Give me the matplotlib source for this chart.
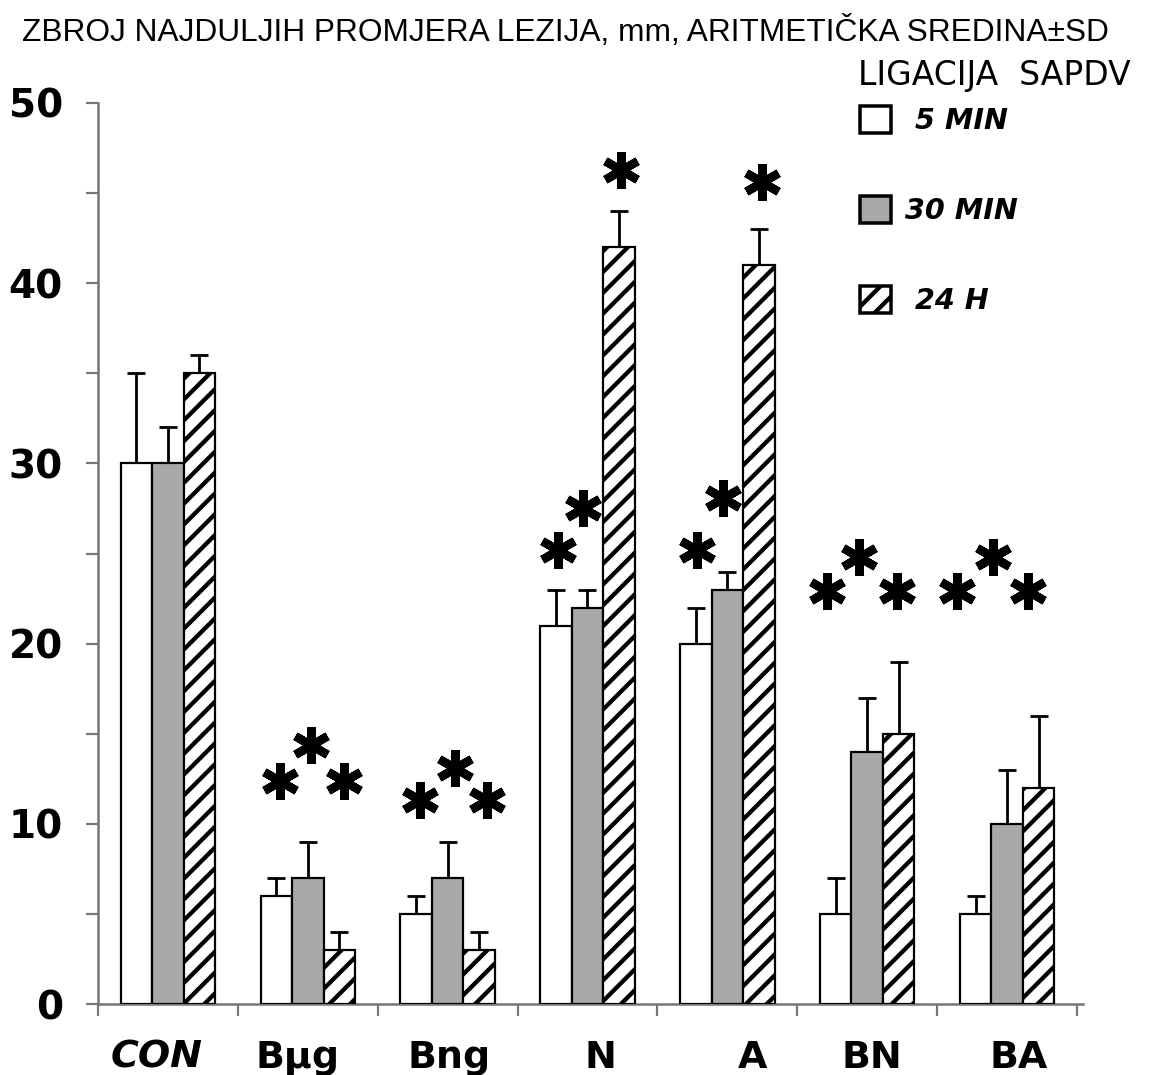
import numpy as np
import matplotlib
matplotlib.use("Agg")
import matplotlib.pyplot as plt
from matplotlib.patches import Patch
from matplotlib.markers import MarkerStyle

# ---------------- data ----------------
categories = ["CON", "Bμg", "Bng", "N", "A", "BN", "BA"]
series_names = [" 5 MIN", "30 MIN", " 24 H"]
mean_5min = [30, 6, 5, 21, 20, 5, 5]
sd_5min = [5, 1, 1, 2, 2, 2, 1]
mean_30min = [30, 7, 7, 22, 23, 14, 10]
sd_30min = [2, 2, 2, 1, 1, 3, 3]
mean_24h = [35, 3, 3, 42, 41, 15, 12]
sd_24h = [1, 1, 1, 2, 2, 4, 4]

# category label positions as they appear in the original (category units)
label_x = [-0.08, 0.93, 2.01, 3.09, 4.18, 5.03, 6.08]

# significance asterisks (x in category units, y in mm)
star_x = [0.80, 1.02, 1.26, 1.80, 2.05, 2.28, 2.79, 2.97, 3.24,
          3.78, 3.97, 4.25, 4.71, 4.94, 5.21, 5.64, 5.90, 6.15]
star_y = [12.4, 14.4, 12.4, 11.3, 13.1, 11.3, 25.2, 27.5, 46.3,
          25.2, 28.1, 45.6, 22.9, 24.8, 22.9, 22.9, 24.8, 22.9]

yticks_major = [0, 10, 20, 30, 40, 50]
yticks_minor = [5, 15, 25, 35, 45]

# ---------------- style ----------------
DPI = 125
W, H = 1155, 1075
def px(v):  # pixels -> points
    return v * 72.0 / DPI

plt.rcParams['hatch.linewidth'] = px(4.3)
plt.rcParams['font.family'] = ['DejaVu Sans']

fig = plt.figure(figsize=(W / DPI, H / DPI), dpi=DPI)
ax = fig.add_axes([98 / W, 1 - 1004 / H, (1083 - 98) / W, (1004 - 103) / H])

x = np.arange(len(categories))
bw = 0.225
gray = '#a9a9a9'
edge_lw = px(2.2)
styles = [dict(facecolor='white', hatch=None),
          dict(facecolor=gray, hatch=None),
          dict(facecolor='white', hatch='//')]
means = [mean_5min, mean_30min, mean_24h]
sds = [sd_5min, sd_30min, sd_24h]
handles = []
for i, (m, s, st) in enumerate(zip(means, sds, styles)):
    xi = x + (i - 1) * bw
    ax.bar(xi, m, width=bw, facecolor=st['facecolor'], hatch=st['hatch'],
           edgecolor='black', linewidth=edge_lw, zorder=3)
    ax.errorbar(xi, m, yerr=[np.zeros(len(m)), s], fmt='none', ecolor='black',
                elinewidth=px(2.8), capsize=px(9), capthick=px(2.8), zorder=2)
    handles.append(Patch(facecolor=st['facecolor'], hatch=st['hatch'],
                         edgecolor='black', linewidth=px(3.5)))

star_marker = MarkerStyle((6, 2, 0), capstyle='round')
ax.plot(star_x, star_y, linestyle='none', marker=star_marker, markersize=px(37),
        markeredgewidth=px(8.5), color='black', zorder=4)

ax.set_xlim(-0.5, 6.543)
ax.set_ylim(0, 50)
for sp in ['top', 'right']:
    ax.spines[sp].set_visible(False)
for sp in ['left', 'bottom']:
    ax.spines[sp].set_color('#777777')
    ax.spines[sp].set_linewidth(px(2.5))
ax.spines['bottom'].set_bounds(-0.5, 6.543)

ax.set_yticks(yticks_major)
ax.set_yticks(yticks_minor, minor=True)
ax.set_yticklabels([str(v) for v in yticks_major], fontsize=px(39), fontweight='bold')
ax.tick_params(axis='y', which='both', direction='out', length=px(12), width=px(2.2),
               color='#777777', pad=px(23))

ax.set_xticks(label_x)
ax.set_xticks(np.arange(-0.5, 7.0, 1.0), minor=True)
ax.set_xticklabels(categories, fontsize=px(38), fontweight='bold')
ax.get_xticklabels()[0].set_fontstyle('italic')
ax.tick_params(axis='x', which='major', length=0, pad=px(36))
ax.tick_params(axis='x', which='minor', direction='out', length=px(12), width=px(2.2),
               color='#777777')

fig.text(22 / W, 1 - 32 / H, "ZBROJ NAJDULJIH PROMJERA LEZIJA, mm, ARITMETIČKA SREDINA±SD",
         family=['Liberation Sans Narrow', 'Liberation Sans', 'DejaVu Sans'],
         fontsize=px(31.6), va='center', ha='left')

fig.text(858 / W, 1 - 75 / H, "LIGACIJA  SAPDV", fontsize=px(33), va='center', ha='left')

leg = fig.legend(handles, series_names, loc='upper left',
                 bbox_to_anchor=(860 / W, 1 - 106 / H),
                 frameon=False, borderpad=0, borderaxespad=0,
                 handlelength=1.08, handleheight=1.05, handletextpad=0.5,
                 labelspacing=2.12,
                 prop=dict(family='DejaVu Sans', weight='bold', style='italic', size=px(28.7)))

fig.savefig("out.png", dpi=DPI, facecolor='white')
